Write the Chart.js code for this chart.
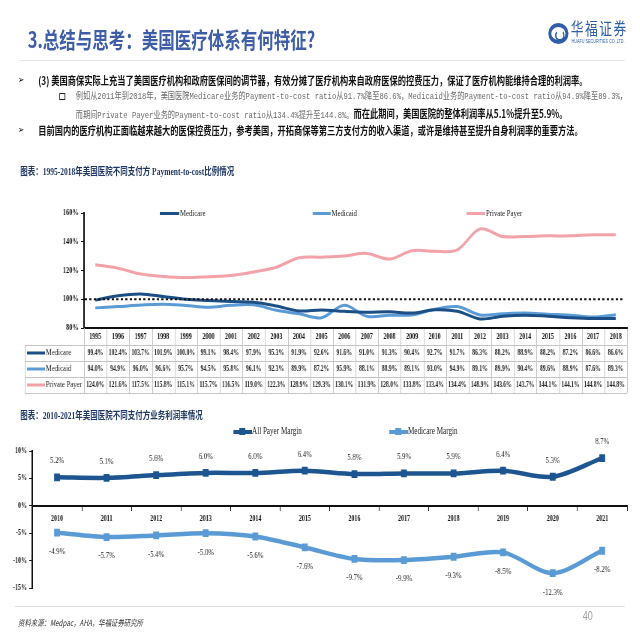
<!DOCTYPE html>
<html>
<head>
<meta charset="utf-8">
<script src="https://cdn.jsdelivr.net/npm/chart.js@4.4.0/dist/chart.umd.min.js"></script>
<style>
  html, body { margin: 0; padding: 0; width: 640px; height: 640px; overflow: hidden; background: #fff; }
  /* the slide is laid out 4:3 wide and squeezed into the square frame */
  #slide { position: absolute; left: 0; top: 0; width: 853px; height: 640px;
           transform: scaleX(0.75); transform-origin: 0 0;
           font-family: "Noto Sans CJK SC", sans-serif; color: #111; }
  .abs { position: absolute; white-space: nowrap; }
  .title { left: 37px; top: 25px; font-size: 22px; font-weight: 700; color: #3d5da7; line-height: 26px; }
  .bullet { font-family: "DejaVu Sans"; font-size: 10px; line-height: 14px; }
  .main { font-size: 11px; font-weight: 700; line-height: 14px; }
  .sub { font-family: "Liberation Mono", "Noto Sans CJK SC"; font-size: 9.6px; line-height: 14px; color: #6b6b6b; }
  .sub b { font-family: "Noto Sans CJK SC"; font-size: 11px; color: #111; }
  .caption { font-family: "Liberation Serif", "Noto Sans CJK SC"; font-size: 10px; font-weight: 700; color: #1f3864; line-height: 12px; }
  .legend { font-family: "Liberation Serif"; font-size: 9px; line-height: 12px; color: #222; }
  .swatch { position: absolute; height: 3px; }
  canvas { position: absolute; left: 0; }
</style>
</head>
<body>
<div id="slide">
  <div class="abs title">3.总结与思考：美国医疗体系有何特征?</div>

  <!-- logo -->
  <div class="abs" style="left:731px;top:23px;width:19px;height:13px;border:4px solid #2f5fa8;border-radius:50%;"></div>
  <div class="abs" style="left:740px;top:30px;width:9px;height:7px;border:2px solid #2f5fa8;border-top-color:transparent;border-radius:50%;"></div>
  <div class="abs" style="left:761px;top:18px;font-size:17px;letter-spacing:2px;color:#2f5fa8;line-height:20px;">华福证券</div>
  <div class="abs" style="left:762px;top:38px;font-family:'Liberation Sans';font-size:5px;color:#2f5fa8;line-height:6px;">HUAFU SECURITIES CO.,LTD.</div>
  <div class="abs" style="left:27px;top:60px;width:806px;height:1px;background:#e4e4e4;"></div>

  <div class="abs bullet" style="left:24px;top:73px;">➢</div>
  <div class="abs main" style="left:51px;top:73px;">(3) 美国商保实际上充当了美国医疗机构和政府医保间的调节器，有效分摊了医疗机构来自政府医保的控费压力，保证了医疗机构能维持合理的利润率。</div>
  <div class="abs" style="left:79px;top:93px;width:6px;height:5px;border:1.6px solid #222;"></div>
  <div class="abs sub" style="left:101px;top:90px;">例如从2011年到2018年，美国医院Medicare业务的Payment-to-cost ratio从91.7%降至86.6%，Medicaid业务的Payment-to-cost ratio从94.9%降至89.3%，</div>
  <div class="abs sub" style="left:101px;top:106px;">而期间Private Payer业务的Payment-to-cost ratio从134.4%提升至144.8%。<b>而在此期间，美国医院的整体利润率从5.1%提升至5.9%。</b></div>
  <div class="abs bullet" style="left:24px;top:123px;">➢</div>
  <div class="abs main" style="left:51px;top:123px;">目前国内的医疗机构正面临越来越大的医保控费压力，参考美国，开拓商保等第三方支付方的收入渠道，或许是维持甚至提升自身利润率的重要方法。</div>

  <div class="abs caption" style="left:27px;top:166px;">图表：1995-2018年美国医院不同支付方 Payment-to-cost比例情况</div>
  <canvas id="c1" width="853" height="205" style="top:195px;"></canvas>
  <div class="swatch" style="left:213px;top:212px;width:26px;background:#1c4f86;"></div>
  <div class="abs legend" style="left:240px;top:207px;">Medicare</div>
  <div class="swatch" style="left:417px;top:212px;width:24px;background:#5b9bd5;"></div>
  <div class="abs legend" style="left:442px;top:207px;">Medicaid</div>
  <div class="swatch" style="left:622px;top:212px;width:25px;background:#f2a2a8;"></div>
  <div class="abs legend" style="left:648px;top:207px;">Private Payer</div>

  <div class="abs caption" style="left:27px;top:410px;">图表：2010-2021年美国医院不同支付方业务利润率情况</div>
  <canvas id="c2" width="853" height="180" style="top:425px;"></canvas>
  <div class="swatch" style="left:311px;top:430px;width:25px;height:4px;background:#1c5590;"></div>
  <div class="abs" style="left:319px;top:428px;width:8px;height:7px;background:#1c5590;"></div>
  <div class="abs legend" style="left:336px;top:425px;font-size:9.5px;">All Payer Margin</div>
  <div class="swatch" style="left:519px;top:430px;width:25px;height:4px;background:#5b9bd5;"></div>
  <div class="abs" style="left:527px;top:428px;width:8px;height:7px;background:#5b9bd5;"></div>
  <div class="abs legend" style="left:544px;top:425px;font-size:9.5px;">Medicare Margin</div>

  <div class="abs" style="left:20px;top:606px;width:813px;height:1px;background:#dedede;"></div>
  <div class="abs" style="left:24px;top:616px;font-size:8.5px;font-style:italic;color:#333;line-height:12px;">资料来源：Medpac，AHA，华福证券研究所</div>
  <div class="abs" style="left:777px;top:609px;font-family:'Liberation Sans';font-size:12px;color:#a0a0a0;line-height:14px;">40</div>
</div>

<script>
// ---------- data ----------
const years1 = ['1995', '1996', '1997', '1998', '1999', '2000', '2001', '2002', '2003', '2004', '2005', '2006',
  '2007', '2008', '2009', '2010', '2011', '2012', '2013', '2014', '2015', '2016', '2017', '2018'];
const medicare = [99.4, 102.4, 103.7, 101.9, 100.0, 99.1, 98.4, 97.9, 95.3, 91.9, 92.6, 91.6,
  91.0, 91.3, 90.4, 92.7, 91.7, 86.3, 88.2, 88.9, 88.2, 87.2, 86.6, 86.6];
const medicaid = [94.0, 94.9, 96.0, 96.6, 95.7, 94.5, 95.8, 96.1, 92.3, 89.9, 87.2, 95.9,
  88.1, 88.9, 89.1, 93.0, 94.9, 89.1, 89.9, 90.4, 89.6, 88.9, 87.6, 89.3];
const privatePayer = [124.0, 121.6, 117.5, 115.8, 115.1, 115.7, 116.5, 119.0, 122.3, 128.9, 129.3, 130.1,
  131.9, 128.0, 133.8, 133.4, 134.4, 148.9, 143.6, 143.7, 144.1, 144.1, 144.8, 144.8];
const breakEven = 100;

const years2 = ['2010', '2011', '2012', '2013', '2014', '2015', '2016', '2017', '2018', '2019', '2020', '2021'];
const allPayerMargin = [5.2, 5.1, 5.6, 6.0, 6.0, 6.4, 5.8, 5.9, 5.9, 6.4, 5.3, 8.7];
const medicareMargin = [-4.9, -5.7, -5.4, -5.0, -5.6, -7.6, -9.7, -9.9, -9.3, -8.5, -12.3, -8.2];

const SERIF = 'Liberation Serif';
const tickFont = (size) => ({ family: SERIF, size, weight: 'bold' });

// ---------- chart 1: payment-to-cost with data table ----------
const tableRows = [
  { name: 'Medicare', color: '#1c4f86', values: medicare },
  { name: 'Medicaid', color: '#5b9bd5', values: medicaid },
  { name: 'Private Payer', color: '#f2a2a8', values: privatePayer },
];

const tablePlugin = {
  id: 'dataTable',
  afterDraw(chart) {
    const { ctx, chartArea: a, scales: { x, y } } = chart;
    ctx.save();

    // break-even reference line
    const yRef = y.getPixelForValue(breakEven);
    ctx.strokeStyle = '#111';
    ctx.lineWidth = 2;
    ctx.setLineDash([3, 3]);
    ctx.beginPath();
    ctx.moveTo(a.left + 1, yRef);
    ctx.lineTo(a.right - 3, yRef);
    ctx.stroke();
    ctx.setLineDash([]);

    // grid of the table
    const step = (a.right - a.left) / years1.length;
    const tableLeft = 33;
    const firstLine = a.bottom + 17;
    const rowH = 16;
    const tableBottom = firstLine + rowH * tableRows.length;
    ctx.strokeStyle = '#c4c4c4';
    ctx.lineWidth = 1;
    ctx.beginPath();
    for (let r = 0; r <= tableRows.length; r++) {
      const ly = Math.round(firstLine + r * rowH) + 0.5;
      ctx.moveTo(tableLeft, ly);
      ctx.lineTo(a.right, ly);
    }
    for (let i = 1; i <= years1.length; i++) {
      const lx = Math.round(a.left + i * step) + 0.5;
      ctx.moveTo(lx, a.bottom + 1);
      ctx.lineTo(lx, tableBottom);
    }
    ctx.moveTo(a.left + 0.5, a.bottom);
    ctx.lineTo(a.left + 0.5, tableBottom);
    ctx.moveTo(tableLeft + 0.5, firstLine);
    ctx.lineTo(tableLeft + 0.5, tableBottom);
    ctx.stroke();

    // rows
    ctx.textBaseline = 'middle';
    tableRows.forEach((row, r) => {
      const cy = firstLine + r * rowH + rowH / 2;
      ctx.fillStyle = row.color;
      ctx.fillRect(36, cy - 1.5, 24, 3);
      ctx.fillStyle = '#222';
      ctx.textAlign = 'left';
      ctx.font = `9px "${SERIF}"`;
      ctx.fillText(row.name, 61, cy);
      ctx.textAlign = 'center';
      ctx.font = `bold 7.5px "${SERIF}"`;
      row.values.forEach((v, i) => {
        ctx.fillText(v.toFixed(1) + '%', x.getPixelForValue(i), cy);
      });
    });
    ctx.restore();
  },
};

function lineSet(label, data, color, width) {
  return {
    label, data,
    borderColor: color,
    backgroundColor: color,
    borderWidth: width,
    pointRadius: 0,
    tension: 0.35,
  };
}

new Chart(document.getElementById('c1'), {
  type: 'line',
  data: {
    labels: years1,
    datasets: [
      lineSet('Medicare', medicare, '#1c4f86', 3),
      lineSet('Medicaid', medicaid, '#5b9bd5', 3),
      lineSet('Private Payer', privatePayer, '#f2a2a8', 3),
    ],
  },
  options: {
    responsive: false,
    animation: false,
    devicePixelRatio: 1,
    layout: { padding: { left: 0, right: 17, top: 18, bottom: 0 } },
    plugins: { legend: { display: false }, tooltip: { enabled: false } },
    scales: {
      x: {
        offset: true,
        grid: { display: false, drawTicks: false },
        border: { color: '#111', width: 2 },
        ticks: { color: '#111', font: tickFont(8), padding: 4, maxRotation: 0, autoSkip: false },
        afterFit: (s) => { s.height = 72; s.paddingLeft = 0; s.paddingRight = 0; },
      },
      y: {
        min: 80, max: 160,
        grid: { drawOnChartArea: false, color: '#111', tickLength: 4 },
        border: { color: '#111', width: 2 },
        ticks: { stepSize: 20, color: '#111', font: tickFont(8.5), padding: 3, callback: (v) => v + '%' },
        afterFit: (s) => { s.width = 112; s.paddingTop = 0; s.paddingBottom = 0; },
      },
    },
  },
  plugins: [tablePlugin],
});

// ---------- chart 2: margins ----------
const valueLabels = {
  id: 'valueLabels',
  afterDatasetsDraw(chart) {
    const ctx = chart.ctx;
    ctx.save();
    ctx.font = `9px "${SERIF}"`;
    ctx.fillStyle = '#222';
    ctx.textAlign = 'center';
    ctx.textBaseline = 'middle';
    chart.data.datasets.forEach((ds, i) => {
      chart.getDatasetMeta(i).data.forEach((pt, j) => {
        ctx.fillText(ds.data[j].toFixed(1) + '%', pt.x, pt.y + ds.labelShift);
      });
    });
    ctx.restore();
  },
};

function marginSet(label, data, color, labelShift) {
  return {
    label, data, labelShift,
    borderColor: color,
    backgroundColor: color,
    borderWidth: 4.5,
    pointStyle: 'rect',
    pointRadius: 5.5,
    pointBorderWidth: 0,
    tension: 0.3,
  };
}

new Chart(document.getElementById('c2'), {
  type: 'line',
  data: {
    labels: years2,
    datasets: [
      marginSet('All Payer Margin', allPayerMargin, '#1c5590', -16.5),
      marginSet('Medicare Margin', medicareMargin, '#5b9bd5', 19),
    ],
  },
  options: {
    responsive: false,
    animation: false,
    devicePixelRatio: 1,
    layout: { padding: { left: 0, right: 17, top: 26, bottom: 17 } },
    plugins: { legend: { display: false }, tooltip: { enabled: false } },
    scales: {
      x: {
        position: { y: 0 },
        offset: true,
        grid: { offset: true, drawOnChartArea: false, color: '#111', tickLength: 4 },
        border: { color: '#111', width: 2 },
        ticks: { color: '#111', font: tickFont(8), padding: 4, maxRotation: 0, autoSkip: false },
      },
      y: {
        min: -15, max: 10,
        grid: { drawOnChartArea: false, color: '#111', tickLength: 4 },
        border: { color: '#111', width: 2 },
        ticks: { stepSize: 5, color: '#111', font: tickFont(8), padding: 3, callback: (v) => v + '%' },
        afterFit: (s) => { s.width = 43; s.paddingTop = 0; s.paddingBottom = 0; },
      },
    },
  },
  plugins: [valueLabels],
});
</script>
</body>
</html>
